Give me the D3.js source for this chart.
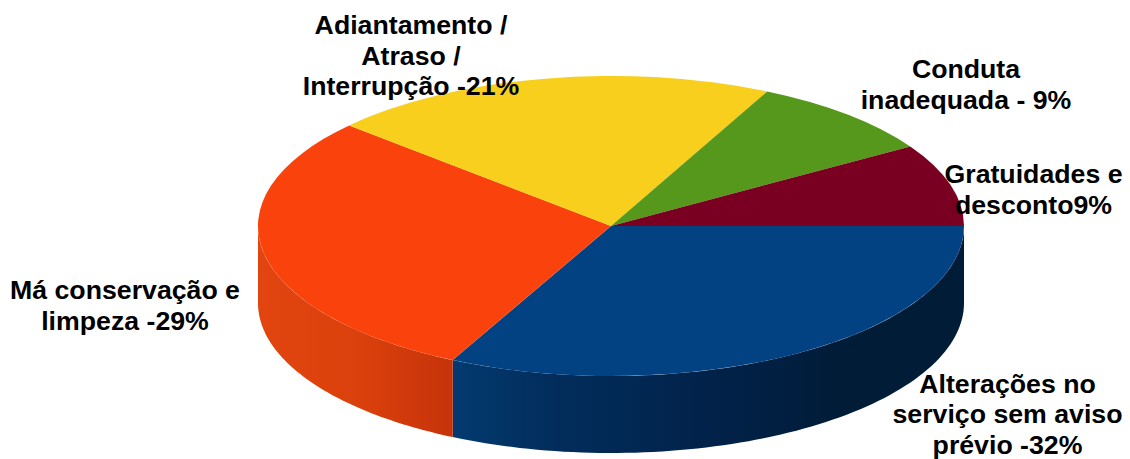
<!DOCTYPE html>
<html><head><meta charset="utf-8">
<script src="https://cdnjs.cloudflare.com/ajax/libs/d3/7.8.5/d3.min.js"></script>
<style>html,body{margin:0;padding:0;background:#fff}svg{display:block}
text{font-family:"Liberation Sans",Arial,sans-serif;font-weight:700;font-size:26.7px;fill:#000}</style>
</head><body><div id="c"></div>
<script>
const categories=["Alterações no serviço sem aviso prévio","Má conservação e limpeza","Adiantamento / Atraso / Interrupção","Conduta inadequada","Gratuidades e desconto"];
const values=[32.4,29.3,20.6,8.8,8.9];
const colors=["#024283","#fa430c","#f7cf1c","#56981b","#7a0022"];
const labelLines=[["Alterações no","serviço sem aviso","prévio -32%"],["Má conservação e","limpeza -29%"],["Adiantamento /","Atraso /","Interrupção -21%"],["Conduta","inadequada - 9%"],["Gratuidades e","desconto9%"]];
const labelAnchors=[[1007.5,392.5],[125,299],[411,34],[966,78],[1033.5,183]];
const W=1130,H=459,cx=611,cy=226,rx=353,ry=150,depth=77,lineH=30.5;
const svg=d3.select("#c").append("svg").attr("width",W).attr("height",H);
const defs=svg.append("defs");
const blue=defs.append("linearGradient").attr("id","wb").attr("gradientUnits","userSpaceOnUse").attr("x1",453).attr("x2",964).attr("y1",0).attr("y2",0);
[[0,"#033a70"],[0.2,"#022d5b"],[0.5,"#01224a"],[0.75,"#001c38"],[1,"#001c36"]].forEach(s=>blue.append("stop").attr("offset",s[0]).attr("stop-color",s[1]));
const orange=defs.append("linearGradient").attr("id","wo").attr("gradientUnits","userSpaceOnUse").attr("x1",258).attr("x2",453).attr("y1",0).attr("y2",0);
[[0,"#e2450f"],[0.5,"#db410c"],[1,"#c6330a"]].forEach(s=>orange.append("stop").attr("offset",s[0]).attr("stop-color",s[1]));
const pie=d3.pie().sort(null).value(d=>d).startAngle(Math.PI/2).endAngle(Math.PI/2+2*Math.PI);
const arcs=pie(values);
const x=a=>cx+rx*Math.sin(a), y=a=>cy-ry*Math.cos(a);
function wall(s,e){
 const a0=Math.max(s,Math.PI/2), a1=Math.min(e,3*Math.PI/2);
 if(a1<=a0) return null;
 const p=d3.path();
 const n=80,pts=d3.range(n+1).map(i=>a0+(a1-a0)*i/n);
 p.moveTo(x(a0),y(a0));
 pts.forEach(a=>p.lineTo(x(a),y(a)));
 pts.slice().reverse().forEach(a=>p.lineTo(x(a),y(a)+depth));
 p.closePath();
 return p.toString();
}
const wallFill=["url(#wb)","url(#wo)",null,null,null];
arcs.forEach((d,i)=>{const w=wall(d.startAngle,d.endAngle); if(w) svg.append("path").attr("d",w).attr("fill",wallFill[i]||colors[i]);});
const arc=d3.arc().innerRadius(0).outerRadius(rx);
const topFace=svg.append("g").attr("transform",`translate(${cx},${cy}) scale(1,${ry/rx})`);
topFace.selectAll("path").data(arcs).join("path").attr("d",arc).attr("fill",(d,i)=>colors[i]);
labelLines.forEach((ls,i)=>{
 const t=svg.append("text").attr("text-anchor","middle");
 ls.forEach((l,j)=>t.append("tspan").attr("x",labelAnchors[i][0]).attr("y",labelAnchors[i][1]+j*lineH).text(l));
});
</script></body></html>
